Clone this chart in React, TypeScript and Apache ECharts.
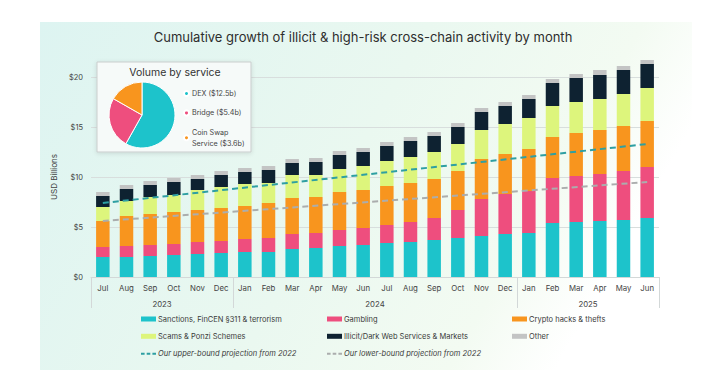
import React, { useEffect, useRef } from "react";
import * as echarts from "echarts";

const periods = [
  "2023-07", "2023-08", "2023-09", "2023-10", "2023-11", "2023-12",
  "2024-01", "2024-02", "2024-03", "2024-04", "2024-05", "2024-06",
  "2024-07", "2024-08", "2024-09", "2024-10", "2024-11", "2024-12",
  "2025-01", "2025-02", "2025-03", "2025-04", "2025-05", "2025-06",
];
const monthNames = ["Jan", "Feb", "Mar", "Apr", "May", "Jun", "Jul", "Aug", "Sep", "Oct", "Nov", "Dec"];
const years = ["2023", "2024", "2025"];
const monthsPerYear = [6, 12, 6];

const sanctions = [2.0, 2.0, 2.1, 2.2, 2.3, 2.4, 2.5, 2.5, 2.8, 2.9, 3.1, 3.2, 3.4, 3.5, 3.7, 3.9, 4.1, 4.3, 4.4, 5.4, 5.5, 5.6, 5.7, 5.9];
const gambling = [1.0, 1.1, 1.1, 1.1, 1.2, 1.2, 1.3, 1.4, 1.5, 1.5, 1.6, 1.7, 1.8, 2.0, 2.2, 2.8, 3.7, 4.0, 4.2, 4.5, 4.6, 4.7, 4.9, 5.1];
const hacks = [2.6, 3.0, 3.1, 3.2, 3.2, 3.3, 3.3, 3.5, 3.6, 3.6, 3.8, 3.8, 3.9, 3.9, 3.9, 3.9, 4.0, 4.0, 4.2, 4.1, 4.3, 4.4, 4.5, 4.6];
const scams = [1.4, 1.5, 1.7, 1.7, 2.0, 2.1, 2.2, 2.0, 2.3, 2.2, 2.3, 2.4, 2.5, 2.6, 2.7, 2.7, 2.9, 3.0, 3.1, 3.1, 3.1, 3.1, 3.2, 3.3];
const darkweb = [1.1, 1.2, 1.2, 1.3, 1.1, 1.2, 1.2, 1.3, 1.2, 1.3, 1.4, 1.4, 1.5, 1.6, 1.6, 1.7, 1.8, 1.8, 1.9, 2.3, 2.4, 2.4, 2.4, 2.4];
const other = [0.4, 0.4, 0.4, 0.4, 0.4, 0.4, 0.4, 0.4, 0.4, 0.4, 0.4, 0.4, 0.4, 0.4, 0.4, 0.4, 0.4, 0.4, 0.4, 0.4, 0.4, 0.5, 0.4, 0.4];

// projections: straight lines, endpoints
const upperStart = 7.4;
const upperEnd = 13.3;
const lowerStart = 5.6;
const lowerEnd = 9.5;

const pieNames = ["DEX ($12.5b)", "Bridge ($5.4b)", "Coin Swap\nService ($3.6b)"];
const pieValues = [12.5, 5.4, 3.6];

const yTicks = [0, 5, 10, 15, 20];

const C = {
  teal: "#1DC3CB",
  pink: "#EE4E7E",
  orange: "#F8951E",
  lime: "#DDF57C",
  dark: "#0E2231",
  gray: "#C3C4C4",
  dashTeal: "#2E9FA2",
  dashGray: "#ABADAD",
  text: "#3A3A3A",
};

const FONT = "Inter, 'Open Sans', sans-serif";
const DASH_ICON = "path://M0,0h3.6v2h-3.6zM5.7,0h3.6v2h-3.6zM11.4,0h3.6v2h-3.6z";

export default function App() {
  const ref = useRef<HTMLDivElement>(null);
  useEffect(() => {
    if (!ref.current) return;
    const chart = echarts.init(ref.current, undefined, { renderer: "svg" });

    const n = periods.length;
    const upper = periods.map((_, i) => (i === 0 ? upperStart : i === n - 1 ? upperEnd : null));
    const lower = periods.map((_, i) => (i === 0 ? lowerStart : i === n - 1 ? lowerEnd : null));

    const boundaries: number[] = [0];
    const centers: number[] = [];
    monthsPerYear.forEach((m) => {
      const start = boundaries[boundaries.length - 1];
      centers.push(start + m / 2);
      boundaries.push(start + m);
    });

    const bar = (name: string, data: number[], color: string) => ({
      name,
      type: "bar",
      stack: "total",
      data,
      barWidth: 13.5,
      clip: false,
      itemStyle: { color },
      z: 2,
    });

    const legendBase = {
      orient: "vertical",
      top: 314,
      padding: 0,
      itemWidth: 15,
      itemHeight: 5,
      itemGap: 7.3,
      icon: "rect",
      textStyle: { fontSize: 7.5, color: C.text, fontFamily: FONT, lineHeight: 10, padding: [0, 0, 0, -3] },
      selectedMode: false,
    };
    const dashLegend = {
      ...legendBase,
      top: 348.7,
      itemHeight: 2,
      icon: DASH_ICON,
      textStyle: { ...legendBase.textStyle, fontStyle: "italic" },
    };

    const option: any = {
      animation: false,
      textStyle: { fontFamily: FONT },
      title: {
        text: "Cumulative growth of illicit & high-risk cross-chain activity by month",
        left: 363,
        top: 30,
        padding: 0,
        textAlign: "center",
        textStyle: { fontSize: 13, fontWeight: "normal", color: "#2E2E2E", fontFamily: FONT },
      },
      graphic: [
        {
          type: "rect",
          z: -10,
          silent: true,
          shape: { x: 40, y: 22, width: 652, height: 348 },
          style: {
            fill: new echarts.graphic.LinearGradient(0, 0, 1, 0.3, [
              { offset: 0, color: "#DDF4F1" },
              { offset: 0.55, color: "#EAF8F0" },
              { offset: 0.85, color: "#F3FBF2" },
              { offset: 1, color: "#FFFFFF" },
            ]),
          },
        },
        {
          type: "rect",
          z: 10,
          silent: true,
          shape: { x: 97, y: 62, width: 154, height: 90 },
          style: {
            fill: "#F6FAF9",
            stroke: "#C9CDCD",
            lineWidth: 1,
            shadowBlur: 4,
            shadowColor: "rgba(0,0,0,0.12)",
            shadowOffsetY: 1,
          },
        },
        {
          type: "text",
          z: 11,
          silent: true,
          x: 175,
          y: 72,
          style: {
            text: "Volume by service",
            fill: "#333",
            fontSize: 10.5,
            fontFamily: FONT,
            align: "center",
            verticalAlign: "middle",
          },
        },
      ],
      legend: [
        { ...legendBase, left: 141, data: ["Sanctions, FinCEN §311 & terrorism", "Scams & Ponzi Schemes"] },
        { ...legendBase, left: 327, data: ["Gambling", "Illicit/Dark Web Services & Markets"] },
        { ...legendBase, left: 512, data: ["Crypto hacks & thefts", "Other"] },
        { ...dashLegend, left: 141, data: ["Our upper-bound projection from 2022"] },
        { ...dashLegend, left: 327, data: ["Our lower-bound projection from 2022"] },
        {
          orient: "vertical",
          left: 183,
          top: 88,
          padding: 0,
          z: 12,
          icon: "circle",
          itemWidth: 5,
          itemHeight: 5,
          itemGap: 8.4,
          selectedMode: false,
          textStyle: { fontSize: 7.2, color: "#444", fontFamily: FONT, lineHeight: 11, padding: [0, 0, 0, -2] },
          data: pieNames,
        },
      ],
      grid: { left: 91, width: 568, top: 77, height: 200, containLabel: false },
      xAxis: [
        {
          type: "category",
          data: periods,
          position: "bottom",
          axisLine: { show: true, lineStyle: { color: "#D3D8D8", width: 1 } },
          axisTick: { show: false },
          axisLabel: {
            interval: 0,
            margin: 7,
            fontSize: 7.8,
            color: "#444",
            fontFamily: FONT,
            formatter: (v: string) => monthNames[parseInt(v.split("-")[1], 10) - 1],
          },
        },
        {
          type: "value",
          min: 0,
          max: n,
          position: "bottom",
          splitLine: { show: false },
          axisLine: { show: false },
          axisTick: { show: true, customValues: boundaries, length: 31, lineStyle: { color: "#D3D8D8" } },
          axisLabel: {
            customValues: centers,
            margin: 23,
            fontSize: 7.8,
            color: "#444",
            fontFamily: FONT,
            formatter: (v: number) => {
              const idx = centers.findIndex((c) => Math.abs(c - v) < 1e-6);
              return idx >= 0 ? years[idx] : "";
            },
          },
        },
      ],
      yAxis: {
        type: "value",
        min: 0,
        max: 20,
        interval: 5,
        name: "USD Billions",
        nameLocation: "middle",
        nameGap: 27,
        nameTextStyle: { fontSize: 8, color: "#444", fontFamily: FONT },
        axisLine: { show: false },
        axisTick: { show: false },
        axisLabel: {
          margin: 8,
          fontSize: 7.5,
          color: "#444",
          fontFamily: FONT,
          customValues: yTicks,
          formatter: (v: number) => "$" + v,
        },
        splitLine: { lineStyle: { color: "#D8DEDD", width: 1 } },
      },
      series: [
        bar("Sanctions, FinCEN §311 & terrorism", sanctions, C.teal),
        bar("Gambling", gambling, C.pink),
        bar("Crypto hacks & thefts", hacks, C.orange),
        bar("Scams & Ponzi Schemes", scams, C.lime),
        bar("Illicit/Dark Web Services & Markets", darkweb, C.dark),
        bar("Other", other, C.gray),
        {
          name: "Our upper-bound projection from 2022",
          type: "line",
          data: upper,
          connectNulls: true,
          symbol: "none",
          z: 4,
          itemStyle: { color: C.dashTeal },
          lineStyle: { color: C.dashTeal, width: 2, type: [6, 4] },
        },
        {
          name: "Our lower-bound projection from 2022",
          type: "line",
          data: lower,
          connectNulls: true,
          symbol: "none",
          z: 4,
          itemStyle: { color: C.dashGray },
          lineStyle: { color: C.dashGray, width: 2, type: [6, 4] },
        },
        {
          type: "pie",
          z: 12,
          center: [142, 115],
          radius: [0, 33],
          startAngle: 90,
          clockwise: true,
          label: { show: false },
          labelLine: { show: false },
          silent: true,
          itemStyle: { borderColor: "#FFFFFF", borderWidth: 1 },
          data: pieNames.map((name, i) => ({
            name,
            value: pieValues[i],
            itemStyle: { color: [C.teal, C.pink, C.orange][i] },
          })),
        },
      ],
    };

    chart.setOption(option);
    return () => chart.dispose();
  }, []);

  return (
    <div
      ref={ref}
      style={{ position: "fixed", left: 0, top: 0, width: 719, height: 379, background: "#FFFFFF" }}
    />
  );
}
